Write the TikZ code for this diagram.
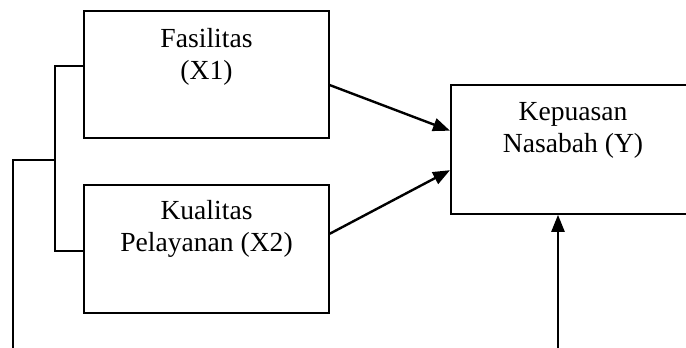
\documentclass[tikz,border=0pt]{standalone}
\usepackage{fontspec}
\setmainfont{Liberation Serif}
\usetikzlibrary{arrows.meta,calc}
\begin{document}
\begin{tikzpicture}[x=1pt,y=-1pt,
  box/.style={draw,line width=1.8pt,rectangle,inner sep=0pt,anchor=north west},
  label/.style={inner sep=0pt,anchor=north,align=center,font=\fontsize{27.6}{32}\selectfont},
  link/.style={line width=1.8pt},
  arr/.style={line width=2.4pt,-{Triangle[length=17pt,width=13pt]}}]
\useasboundingbox (0,0) rectangle (686,348);
\clip (0,0) rectangle (686,348);
\node[box,minimum width=245pt,minimum height=127pt] (b1) at (83,10) {};
\node[box,minimum width=245pt,minimum height=128pt] (b2) at (83,184) {};
\node[box,minimum width=246pt,minimum height=129pt] (b3) at (450,84) {};
\node[label] (t1) at (206.5,28.6) {Fasilitas\\(X1)};
\node[label] (t2) at (206.5,200) {Kualitas\\Pelayanan (X2)};
\node[label] (t3) at (573,102) {Kepuasan\\Nasabah (Y)};
% bracket
\coordinate (br) at (55,160);
\coordinate (leftend) at (13,352);
\coordinate (bottomend) at (558,352);
\draw[link] ($(b1.north west)!0.433!(b1.south west)$) -| (br);
\draw[link] ($(b2.north west)!0.516!(b2.south west)$) -| (br);
\draw[link] (leftend) |- (br);
% arrows
\draw[arr] ($(b1.north east)!0.583!(b1.south east)$) -- ($(b3.north west)!0.357!(b3.south west)$);
\draw[arr] ($(b2.north east)!0.383!(b2.south east)$) -- ($(b3.north west)!0.659!(b3.south west)$);
\draw[arr] (bottomend) -- (bottomend |- b3.south);
\end{tikzpicture}
\end{document}
